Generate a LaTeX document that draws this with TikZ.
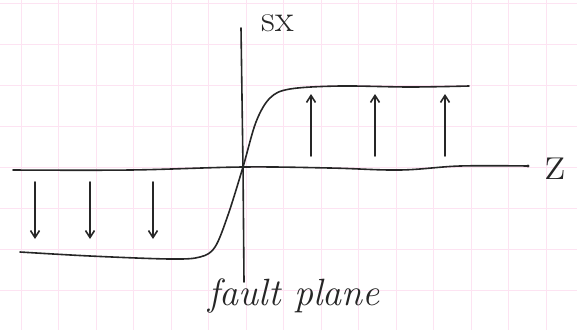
\documentclass[tikz,border=0pt]{standalone}
\usepackage{tikz}
\usetikzlibrary{arrows.meta}

\begin{document}
\begin{tikzpicture}[
    x=1pt, y=-1pt,
    >={Straight Barb[length=7pt,width=9pt]},
    pen/.style={draw=black!85, line width=1.6pt, line cap=round, line join=round},
    gridline/.style={draw=magenta!11, line width=0.9pt},
    hand/.style={text=black!85, inner sep=0pt, font=\itshape\fontsize{38}{38}\selectfont},
    axislabel/.style={text=black!85, inner sep=0pt, font=\fontsize{38}{38}\selectfont}
]
\useasboundingbox (0,0) rectangle (577,330);

% Graph paper
\foreach \gx in {21,58.5,...,560} \draw[gridline] (\gx,0) -- (\gx,330);
\foreach \gy in {3,44,...,330} \draw[gridline] (0,\gy) -- (577,\gy);

% Axes
\coordinate (O) at (243,167);
\coordinate (ftop) at (241,28);
\coordinate (fbot) at (244,282);
\coordinate (zleft) at (13,170);
\coordinate (zright) at (528,166);
\draw[pen] (ftop) -- (O) -- (fbot);
\draw[pen] plot[smooth, tension=0.6] coordinates {(13,170) (130,170) (243,167) (330,168) (400,170) (460,166) (528,166)};
\fill[black!85] (zright) circle (1.6pt);

% Labels
\node[axislabel] (sx) at (278,23) {sx};
\node[axislabel, font=\fontsize{50}{50}\selectfont] (z) at (556,169) {z};
\node[hand] (fault) at (294,296) {fault plane};

% Step profile across the fault
\draw[pen] plot[smooth, tension=0.55] coordinates {(20,252) (90,256) (170,259) (200,257) (215,247) (228,215) (243,167) (256,122) (270,98) (290,89) (340,86) (410,87) (469,86)};

% Slip direction on each side
\foreach \ax in {35,90,153} \draw[pen,->] (\ax,182) -- (\ax,239);
\foreach \ax in {311,375,445} \draw[pen,->] (\ax,156) -- (\ax,94);

\end{tikzpicture}
\end{document}
